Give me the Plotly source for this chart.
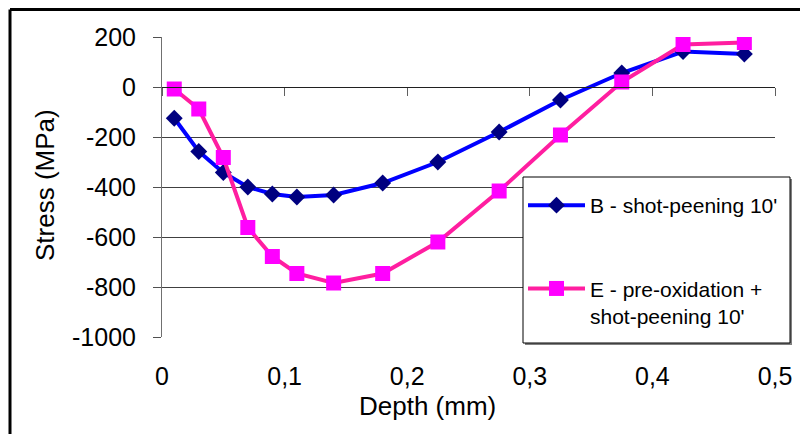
import plotly.graph_objects as go

# ---- data ----
depth_b = [0.01, 0.03, 0.05, 0.07, 0.09, 0.11, 0.14, 0.18, 0.225, 0.275, 0.325, 0.375, 0.425, 0.475]
stress_b = [-125, -258, -342, -400, -428, -440, -432, -384, -300, -180, -52, 56, 142, 132]

depth_e = [0.01, 0.03, 0.05, 0.07, 0.09, 0.11, 0.14, 0.18, 0.225, 0.275, 0.325, 0.375, 0.425, 0.475]
stress_e = [-8, -88, -282, -562, -678, -746, -784, -746, -620, -416, -192, 20, 170, 178]

name_b = "B - shot-peening 10'"
name_e = "E - pre-oxidation +<br>shot-peening 10'"

x_ticks = [0, 0.1, 0.2, 0.3, 0.4, 0.5]
x_labels = ["0", "0,1", "0,2", "0,3", "0,4", "0,5"]
y_ticks = [200, 0, -200, -400, -600, -800, -1000]
y_labels = ["200", "0", "-200", "-400", "-600", "-800", "-1000"]
x_range = [0, 0.5]
y_range = [-1000, 200]

FONT = "Liberation Sans, Arial, sans-serif"

fig = go.Figure()
fig.add_trace(go.Scatter(
    x=depth_b, y=stress_b, name=name_b, mode="lines+markers",
    line=dict(color="#0000FF", width=4),
    marker=dict(symbol="diamond", size=13, color="#000080"),
    legendgroup="b",
))
fig.add_trace(go.Scatter(
    x=depth_e, y=stress_e, name=name_e, mode="lines+markers",
    line=dict(color="#FF1EA0", width=4),
    marker=dict(symbol="square", size=15, color="#FF00FF"),
    legendgroup="e",
))
# invisible trace to carry the axis drawn through y=0
fig.add_trace(go.Scatter(x=x_range, y=[0, 0], xaxis="x2", mode="lines",
                         line=dict(width=0), showlegend=False, hoverinfo="skip"))

zero_pos = (0 - y_range[0]) / (y_range[1] - y_range[0])

# page body has an 8px margin: plot area spans screen x 162..775, y 37..337
PX = lambda sx: (sx - 162) / 613
PY = lambda sy: (337 - sy) / 300

fig.update_layout(
    width=800, height=426,
    margin=dict(l=154, r=33, t=29, b=97),
    paper_bgcolor="white", plot_bgcolor="white",
    font=dict(family=FONT, color="black"),
    showlegend=True,
    xaxis=dict(
        range=x_range, tickmode="array", tickvals=x_ticks, ticktext=x_labels,
        showgrid=False, zeroline=False, showline=False, ticks="",
        tickfont=dict(size=25), ticklabelstandoff=22,
    ),
    xaxis2=dict(
        overlaying="x", matches="x", anchor="free", position=zero_pos, side="bottom",
        range=x_range, tickmode="array", tickvals=x_ticks,
        showticklabels=False, showgrid=False, zeroline=False,
        showline=True, linecolor="#202020", linewidth=1,
        ticks="outside", ticklen=8, tickcolor="#606060", tickwidth=1,
    ),
    yaxis=dict(
        range=y_range, tickmode="array", tickvals=y_ticks, ticktext=y_labels,
        showgrid=True, gridcolor="#404040", gridwidth=1, zeroline=False,
        showline=True, linecolor="#707070", linewidth=1,
        ticks="outside", ticklen=8, tickcolor="#505050",
        tickfont=dict(size=25), ticklabelstandoff=12,
    ),
    legend=dict(
        x=PX(523), y=PY(185), xanchor="left", yanchor="top",
        bgcolor="rgba(0,0,0,0)", borderwidth=0,
        font=dict(size=21, family=FONT), traceorder="grouped", tracegroupgap=53,
        itemwidth=57, valign="top",
    ),
    annotations=[
        dict(text="Stress (MPa)", xref="paper", yref="paper",
             x=PX(45), y=PY(185), textangle=-90,
             showarrow=False, font=dict(size=26), xanchor="center", yanchor="middle"),
        dict(text="Depth (mm)", xref="paper", yref="paper",
             x=PX(427), y=PY(406),
             showarrow=False, font=dict(size=26), xanchor="center", yanchor="middle"),
    ],
    shapes=[
        # legend shadow and box
        dict(type="rect", xref="paper", yref="paper", layer="above",
             x0=PX(525), x1=PX(792), y0=PY(345), y1=PY(179),
             line=dict(width=0), fillcolor="#808080"),
        dict(type="rect", xref="paper", yref="paper", layer="above",
             x0=PX(523), x1=PX(790), y0=PY(343), y1=PY(177),
             line=dict(color="black", width=1), fillcolor="white"),
        # chart frame (top and left)
        dict(type="line", xref="paper", yref="paper",
             x0=PX(10), x1=PX(812), y0=PY(9.5), y1=PY(9.5),
             line=dict(color="black", width=3)),
        dict(type="line", xref="paper", yref="paper",
             x0=PX(10), x1=PX(10), y0=PY(9.5), y1=PY(440),
             line=dict(color="black", width=3)),
    ],
)

fig.write_html("out.html")
